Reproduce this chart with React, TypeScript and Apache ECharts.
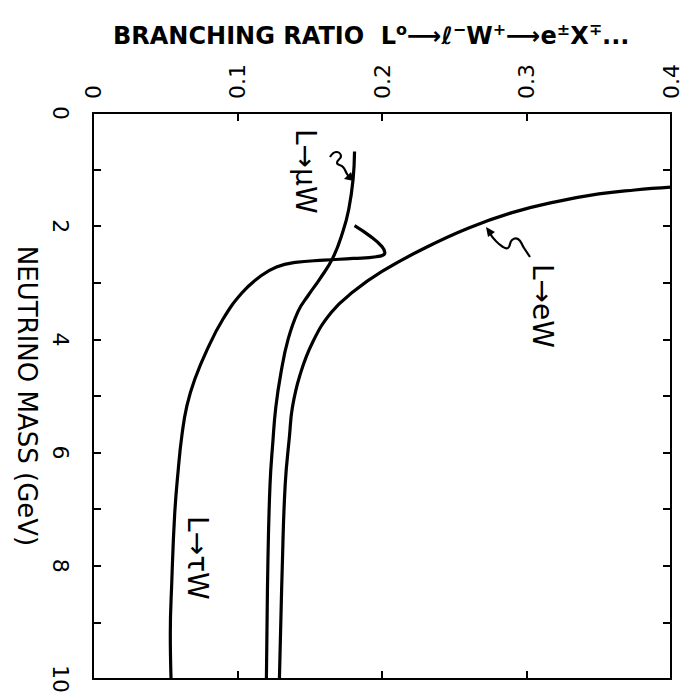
import React, { useEffect, useRef } from 'react';
import * as echarts from 'echarts';

// Branching ratio (x, horizontal) vs neutrino mass in GeV (y, vertical, increasing downward)
const eCurve: [number, number][] = [
  [0.4, 1.31], [0.375, 1.36], [0.35, 1.43], [0.32, 1.57], [0.29, 1.76], [0.26, 2.03],
  [0.23, 2.38], [0.2, 2.8], [0.18, 3.16], [0.165, 3.52], [0.152, 4.05], [0.143, 4.65],
  [0.138, 5.2], [0.136, 5.7], [0.133, 6.57], [0.131, 8.0], [0.129, 10],
];
const muCurve: [number, number][] = [
  [0.181, 0.68], [0.18, 1.17], [0.177, 1.7], [0.173, 2.09], [0.166, 2.56], [0.157, 2.93],
  [0.149, 3.22], [0.142, 3.5], [0.135, 4.0], [0.13, 4.6], [0.1265, 5.2], [0.1245, 5.8],
  [0.1225, 6.57], [0.121, 8.0], [0.12, 10],
];
const tauCurve: [number, number][] = [
  [0.181, 1.99], [0.192, 2.18], [0.2, 2.36], [0.202, 2.47], [0.196, 2.54], [0.18, 2.57],
  [0.16, 2.6], [0.14, 2.64], [0.127, 2.72], [0.116, 2.88], [0.103, 3.18], [0.09, 3.64],
  [0.079, 4.18], [0.0705, 4.7], [0.065, 5.17], [0.0615, 5.7], [0.059, 6.3], [0.0565, 7.1],
  [0.0545, 8.3], [0.0535, 9.2], [0.054, 10],
];
const ratioRange = [0, 0.4];
const massRange = [0, 10];
const curveLabels = [
  { text: 'L→μW', at: [0.147, 1.03] as [number, number] },
  { text: 'L→eW', at: [0.311, 3.41] as [number, number] },
  { text: 'L→τW', at: [0.072, 7.86] as [number, number] },
];
const massAxisName = 'NEUTRINO MASS (GeV)';

const FONT = 'DejaVu Sans';
const BLACK = '#000';

export default function App() {
  const ref = useRef<HTMLDivElement>(null);
  useEffect(() => {
    const chart = echarts.init(ref.current!, null, { renderer: 'svg' });
    const line = { show: true, onZero: false, lineStyle: { color: BLACK, width: 2 } };
    const tick = { show: true, inside: true, length: 8, lineStyle: { color: BLACK, width: 2 } };
    const xBase = {
      type: 'value', min: ratioRange[0], max: ratioRange[1], interval: 0.1,
      axisLine: line, axisTick: tick, splitLine: { show: false },
    };
    const yBase = {
      type: 'value', inverse: true, min: massRange[0], max: massRange[1], interval: 2,
      axisLine: line, axisTick: tick, splitLine: { show: false },
      minorTick: { show: true, splitNumber: 2, length: 8, lineStyle: { color: BLACK, width: 2 } },
      minorSplitLine: { show: false },
    };
    const mkSeries = (data: [number, number][]) => ({
      type: 'line', data, showSymbol: false, smooth: 0.45, clip: true,
      lineStyle: { color: BLACK, width: 3.2 }, xAxisIndex: 0, yAxisIndex: 0,
    });
    chart.setOption({
      animation: false,
      grid: { left: 93, top: 113, right: 21, bottom: 9 },
      title: {
        left: 108, top: 16,
        text: '{a|BRANCHING RATIO  L}{s|o}{a|⟶ℓ}{s|−}{a|W}{s|+}{a|⟶e}{s|±}{a|X}{s|∓}{a|...}',
        textStyle: {
          rich: {
            a: { fontFamily: FONT, fontSize: 24, fontWeight: 'bold', color: BLACK, lineHeight: 30 },
            s: { fontFamily: FONT, fontSize: 16, fontWeight: 'bold', color: BLACK, verticalAlign: 'top', lineHeight: 30 },
          },
        },
      },
      xAxis: [
        {
          ...xBase, position: 'top',
          axisLabel: { show: true, rotate: -90, margin: 14, fontSize: 22, color: BLACK, fontFamily: FONT },
        },
        { ...xBase, position: 'bottom', axisLabel: { show: false } },
      ],
      yAxis: [
        {
          ...yBase, position: 'left',
          name: massAxisName, nameLocation: 'middle', nameGap: 53, nameRotate: -90,
          nameTextStyle: { fontFamily: FONT, fontSize: 26, color: BLACK },
          axisLabel: { show: true, rotate: -90, margin: 22, fontSize: 22, color: BLACK, fontFamily: FONT },
        },
        { ...yBase, position: 'right', axisLabel: { show: false } },
      ],
      series: [mkSeries(eCurve), mkSeries(muCurve), mkSeries(tauCurve)],
    });

    const texts = curveLabels.map((l) => {
      const p = chart.convertToPixel({ gridIndex: 0 }, l.at) as number[];
      return {
        type: 'text', x: p[0], y: p[1], rotation: -Math.PI / 2,
        style: { text: l.text, fontFamily: FONT, fontSize: 28, fill: BLACK, align: 'center', verticalAlign: 'middle' },
      };
    });
    const squiggle = (pts: number[][]) => ({
      type: 'polyline', shape: { points: pts, smooth: 0.5 },
      style: { stroke: BLACK, lineWidth: 2.2, fill: null },
    });
    const head = (pts: number[][]) => ({ type: 'polygon', shape: { points: pts }, style: { fill: BLACK } });
    chart.setOption({
      graphic: [
        ...texts,
        squiggle([[330, 157], [336, 152], [341, 156], [337, 163], [343, 167], [347, 174], [350, 178]]),
        head([[354, 181], [344, 179], [351, 172]]),
        squiggle([[530, 257], [524, 248], [518, 239], [512, 240], [508, 248], [503, 247], [494, 239], [490, 233]]),
        head([[486, 227], [488, 237], [495, 232]]),
      ],
    });
    return () => chart.dispose();
  }, []);
  return <div ref={ref} style={{ position: 'fixed', left: 0, top: 0, width: 692, height: 696, background: '#fff' }} />;
}
